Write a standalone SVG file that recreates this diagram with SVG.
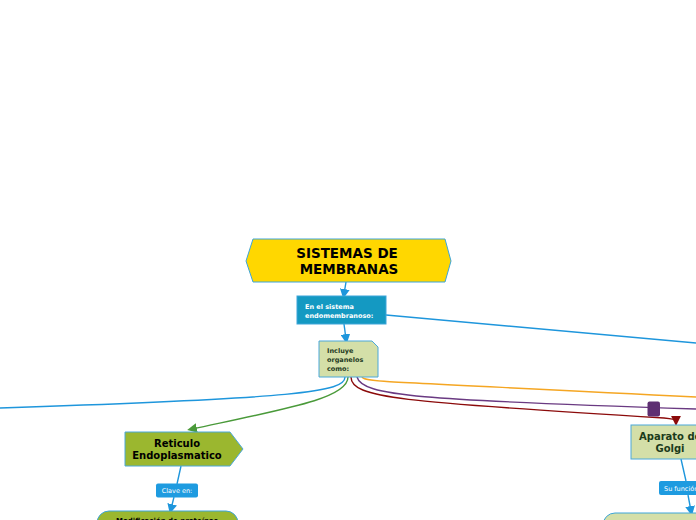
<svg xmlns="http://www.w3.org/2000/svg" width="696" height="520" viewBox="0 0 696 520">
<defs>
<style>
text{font-family:"DejaVu Sans","Liberation Sans",sans-serif;font-weight:bold}
.c{fill:none;stroke-width:1.4}
.lbl{fill:#1E9BE0}
.lt{fill:#fff;font-weight:normal;font-size:6.5px}
</style>
<marker id="ab" viewBox="0 0 10 10" refX="5" refY="5" markerWidth="7" markerHeight="7" orient="auto"><path d="M0,0L10,5L0,10z" fill="#1E96DC"/></marker>
<marker id="ag" viewBox="0 0 10 10" refX="5" refY="5" markerWidth="7" markerHeight="7" orient="auto"><path d="M0,0L10,5L0,10z" fill="#4A9A3A"/></marker>
<marker id="ar" viewBox="0 0 10 10" refX="5" refY="5" markerWidth="7" markerHeight="7" orient="auto"><path d="M0,0L10,5L0,10z" fill="#8B0A0A"/></marker>
</defs>
<rect width="696" height="520" fill="#fff"/>
<g id="connectors">
<path class="c" stroke="#1E96DC" d="M346,282 L344,294" marker-end="url(#ab)"/>
<path class="c" stroke="#1E96DC" d="M344,324 L346,339" marker-end="url(#ab)"/>
<path class="c" stroke="#1E96DC" d="M386,315 L696,343"/>
<path class="c" stroke="#1E96DC" d="M345,377 C345,392 300,398 0,408"/>
<path class="c" stroke="#4A9A3A" d="M348,377 C348,398 290,408 192,429" marker-end="url(#ag)"/>
<path class="c" stroke="#8B0A0A" d="M351,377 C351,398 400,402 664,418 Q676,419 676,421" marker-end="url(#ar)"/>
<path class="c" stroke="#6A3A82" d="M357,377 C362,396 420,400 696,409"/>
<path class="c" stroke="#F5A623" d="M362,377 C364,382 380,381 696,397"/>
<rect x="647.5" y="401.5" width="12.5" height="15" rx="2" fill="#5E2F72"/>
<path class="c" stroke="#1E96DC" d="M181,466 L177,484 M174,497 L171,509" marker-end="url(#ab)"/>
<path class="c" stroke="#1E96DC" d="M681,459 L686,481 M688,495 L691,511" marker-end="url(#ab)"/>
</g>
<g id="title">
<polygon points="253,239 445,239 451,261 445,282 253,282 246,261" fill="#FFD700" stroke="#3DA5D9" stroke-width="1"/>
<text x="347" y="258" font-size="13.5" text-anchor="middle" fill="#000">SISTEMAS DE</text>
<text x="349" y="274" font-size="13.5" text-anchor="middle" fill="#000">MEMBRANAS</text>
</g>
<g id="sistema">
<rect x="297" y="296" width="89" height="28" fill="#1499C2" stroke="#3DA5D9" stroke-width="1"/>
<text x="305" y="309" font-size="6.5" fill="#fff">En el sistema</text>
<text x="305" y="318" font-size="6.5" fill="#fff">endomembranoso:</text>
</g>
<g id="incluye">
<polygon points="319,341 372,341 378,347 378,377 319,377" fill="#D4DFA8" stroke="#4AA8DA" stroke-width="1"/>
<text x="327" y="353" font-size="6.5" fill="#1F3A1F">Incluye</text>
<text x="327" y="362" font-size="6.5" fill="#1F3A1F">organelos</text>
<text x="327" y="371" font-size="6.5" fill="#1F3A1F">como:</text>
</g>
<g id="reticulo">
<polygon points="125,432 230,432 243,449 230,466 125,466" fill="#9BB72F" stroke="#4AA8DA" stroke-width="1"/>
<text x="177" y="447" font-size="10" text-anchor="middle" fill="#000">Reticulo</text>
<text x="177" y="459" font-size="10" text-anchor="middle" fill="#000">Endoplasmatico</text>
</g>
<g id="clave">
<rect class="lbl" x="156" y="483.5" width="42" height="14" rx="2"/>
<text class="lt" x="177" y="493" text-anchor="middle">Clave en:</text>
</g>
<g id="modificacion">
<rect x="97" y="511" width="141" height="30" rx="12" fill="#9BB72F" stroke="#3DA5D9" stroke-width="1"/>
<text x="167" y="523" font-size="7" text-anchor="middle" fill="#000">Modificación de proteínas</text>
</g>
<g id="golgi">
<rect x="631" y="425" width="80" height="34" fill="#D4DFA8" stroke="#4AA8DA" stroke-width="1"/>
<text x="639" y="440" font-size="10" fill="#1B3B1B">Aparato de</text>
<text x="670" y="452" font-size="10" text-anchor="middle" fill="#1B3B1B">Golgi</text>
</g>
<g id="sufuncion">
<rect class="lbl" x="659" y="481" width="45" height="14" rx="2"/>
<text class="lt" x="664" y="490.5">Su función</text>
</g>
<g id="golgi-funcion">
<rect x="603" y="513" width="120" height="30" rx="12" fill="#D4DFA8" stroke="#3DA5D9" stroke-width="1"/>
</g>
</svg>
